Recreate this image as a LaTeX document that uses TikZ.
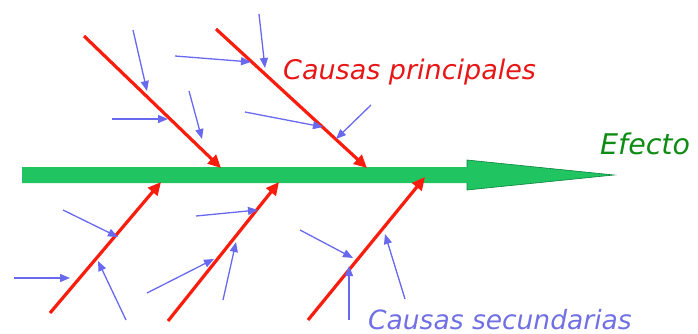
\documentclass[tikz,border=0pt]{standalone}
\usepackage{fontspec}
\newfontfamily\verd{DejaVu Sans}
\usetikzlibrary{arrows.meta}
\definecolor{spinefill}{RGB}{32,196,96}
\definecolor{spineline}{RGB}{10,130,60}
\definecolor{causered}{RGB}{250,28,12}
\definecolor{subblue}{RGB}{105,105,240}
\definecolor{txtred}{RGB}{232,22,22}
\definecolor{txtgreen}{RGB}{14,140,20}
\definecolor{txtblue}{RGB}{112,112,228}
\tikzset{
  mainc/.style={draw=causered, line width=3.2pt, -{Triangle[length=13pt,width=12pt]}},
  subc/.style={draw=subblue, line width=1.3pt, -{Triangle[length=10pt,width=8pt]}},
  lbl/.style={inner sep=0pt, anchor=base west},
}
\begin{document}
\begin{tikzpicture}[x=1pt,y=-1pt]
\useasboundingbox (0,0) rectangle (698,334);
% spine
\coordinate (s1) at (22,167);
\coordinate (s2) at (467,167);
\coordinate (s3) at (467,160);
\coordinate (tip) at (614,175);
\coordinate (s5) at (467,190);
\coordinate (s6) at (467,183);
\coordinate (s7) at (22,183);
\fill[spinefill] (s1) -- (s2) -- (s3) -- (tip) -- (s5) -- (s6) -- (s7) -- cycle;
\draw[spineline, line width=0.6pt] (s2) -- (s3) -- (tip) -- (s5) -- (s6);
% main causes
\coordinate (a1) at (84,36);   \coordinate (a1t) at (221,168);
\coordinate (a2) at (216,29);  \coordinate (a2t) at (367,168);
\coordinate (a3) at (50,313);  \coordinate (a3t) at (161,182);
\coordinate (a4) at (168,321); \coordinate (a4t) at (279,182);
\coordinate (a5) at (308,320); \coordinate (a5t) at (425,177);
\draw[mainc] (a1) -- (a1t);
\draw[mainc] (a2) -- (a2t);
\draw[mainc] (a3) -- (a3t);
\draw[mainc] (a4) -- (a4t);
\draw[mainc] (a5) -- (a5t);
% secondary causes
\coordinate (b1) at (133,30);  \coordinate (b1t) at (147,91);
\coordinate (b2) at (175,56);  \coordinate (b2t) at (251,62);
\coordinate (b3) at (259,14);  \coordinate (b3t) at (265,68);
\coordinate (b4) at (112,119); \coordinate (b4t) at (168,119);
\coordinate (b5) at (189,91);  \coordinate (b5t) at (202,139);
\coordinate (b6) at (245,112); \coordinate (b6t) at (323,127);
\coordinate (b7) at (371,105); \coordinate (b7t) at (336,139);
\coordinate (b8) at (63,210);  \coordinate (b8t) at (118,237);
\coordinate (b9) at (14,278);  \coordinate (b9t) at (70,278);
\coordinate (b10) at (126,320); \coordinate (b10t) at (98,261);
\coordinate (b11) at (196,216); \coordinate (b11t) at (258,210);
\coordinate (b12) at (147,293); \coordinate (b12t) at (214,259);
\coordinate (b13) at (223,300); \coordinate (b13t) at (236,242);
\coordinate (b14) at (300,230); \coordinate (b14t) at (353,258);
\coordinate (b15) at (349,320); \coordinate (b15t) at (349,266);
\coordinate (b16) at (405,299); \coordinate (b16t) at (385,234);
\foreach \i in {1,...,16} {\draw[subc] (b\i) -- (b\i t);}
% labels
\node[lbl, text=txtred, font=\verd\itshape\fontsize{27}{30}\selectfont] (lp) at (283,80) {Causas principales};
\node[lbl, text=txtgreen, font=\verd\itshape\fontsize{28.5}{32}\selectfont] (le) at (600,154) {Efecto};
\node[lbl, text=txtblue, font=\verd\itshape\fontsize{26.5}{30}\selectfont] (ls) at (368,329) {Causas secundarias};
\end{tikzpicture}
\end{document}
